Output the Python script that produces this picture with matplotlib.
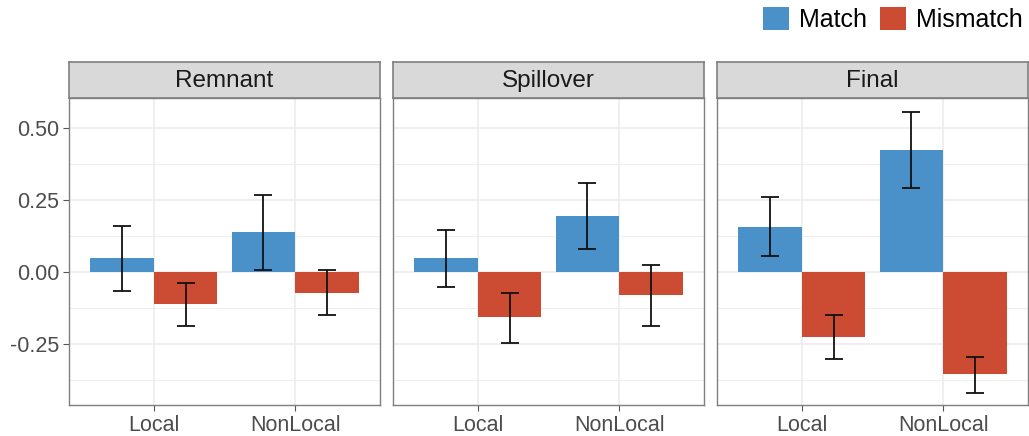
import numpy as np
import matplotlib.pyplot as plt
from matplotlib.patches import Patch

plt.rcParams['font.family'] = ['Liberation Sans', 'DejaVu Sans']

# Estimated effects with lower/upper interval bounds per region
regions = ["Remnant", "Spillover", "Final"]
categories = ["Local", "NonLocal"]
conditions = ["Match", "Mismatch"]

match_mean = {"Remnant": [0.048, 0.137], "Spillover": [0.048, 0.194], "Final": [0.157, 0.424]}
match_lo = {"Remnant": [-0.065, 0.006], "Spillover": [-0.051, 0.079], "Final": [0.057, 0.293]}
match_hi = {"Remnant": [0.161, 0.268], "Spillover": [0.146, 0.308], "Final": [0.261, 0.557]}

mismatch_mean = {"Remnant": [-0.112, -0.072], "Spillover": [-0.158, -0.080], "Final": [-0.226, -0.355]}
mismatch_lo = {"Remnant": [-0.188, -0.149], "Spillover": [-0.245, -0.186], "Final": [-0.303, -0.419]}
mismatch_hi = {"Remnant": [-0.039, 0.006], "Spillover": [-0.074, 0.025], "Final": [-0.150, -0.295]}

colors = {"Match": "#4A90C9", "Mismatch": "#CB4C32"}

W, H = 1029, 436
fig = plt.figure(figsize=(W / 100, H / 100), dpi=100)

def px_box(x0, y0, x1, y1):
    # convert pixel box (top-left origin) to figure fraction
    return [x0 / W, 1 - y1 / H, (x1 - x0) / W, (y1 - y0) / H]

lefts = [69, 393, 717]
pw = 311
top, strip_top, bottom = 98, 62, 405
border = "#7F7F7F"
grid = "#EBEBEB"
bw = 0.45
x = np.arange(1, len(categories) + 1)

for i, reg in enumerate(regions):
    ax = fig.add_axes(px_box(lefts[i], top, lefts[i] + pw, bottom))
    ax.set_xlim(0.4, 2.6)
    ax.set_ylim(-0.462, 0.604)
    ax.set_yticks([-0.25, 0, 0.25, 0.5])
    ax.set_yticks([-0.375, -0.125, 0.125, 0.375], minor=True)
    ax.set_xticks(x)
    ax.set_xticklabels(categories)
    ax.grid(True, which='major', color=grid, lw=1.1, zorder=0)
    ax.grid(True, which='minor', axis='y', color=grid, lw=0.6, zorder=0)
    ax.set_axisbelow(True)
    ax.tick_params(which='minor', length=0)
    ax.tick_params(which='major', length=4, width=0.8, color="#555555",
                   labelsize=15.5, labelcolor="#4D4D4D", pad=3)
    if i == 0:
        ax.set_yticklabels(["-0.25", "0.00", "0.25", "0.50"])
    else:
        ax.tick_params(axis='y', left=False, labelleft=False)
    for s in ax.spines.values():
        s.set_color(border)
        s.set_linewidth(1.0)

    for cond, means, los, his, off in [
        ("Match", match_mean, match_lo, match_hi, -bw / 2),
        ("Mismatch", mismatch_mean, mismatch_lo, mismatch_hi, bw / 2),
    ]:
        m = np.array(means[reg])
        lo = np.array(los[reg])
        hi = np.array(his[reg])
        ax.bar(x + off, m, width=bw, color=colors[cond], zorder=2)
        ax.errorbar(x + off, m, yerr=[m - lo, hi - m], fmt='none', ecolor='#111111',
                    elinewidth=1.3, capsize=6.5, capthick=1.3, zorder=3)

    sax = fig.add_axes(px_box(lefts[i], strip_top, lefts[i] + pw, top))
    sax.set_facecolor("#D9D9D9")
    sax.set_xticks([])
    sax.set_yticks([])
    for s in sax.spines.values():
        s.set_color(border)
        s.set_linewidth(1.2)
    sax.text(0.5, 0.47, reg, ha='center', va='center', fontsize=17.5, color="#1A1A1A",
             transform=sax.transAxes)

handles = [Patch(facecolor=colors[c], edgecolor='none', label=c) for c in conditions]
fig.legend(handles=handles, loc='upper right', bbox_to_anchor=(1.016, 1.035), ncol=2,
           frameon=False, fontsize=18, handlelength=1.05, handleheight=1.05,
           handletextpad=0.4, columnspacing=0.5)

fig.savefig("out.png", dpi=100)
